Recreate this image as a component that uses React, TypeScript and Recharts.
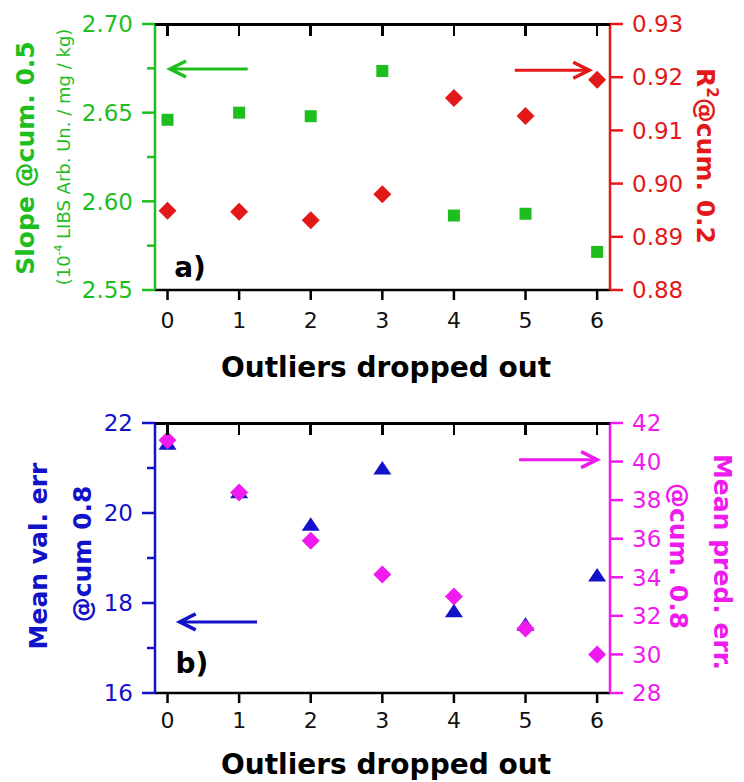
import { ComposedChart, Scatter, XAxis, YAxis, ReferenceLine } from "recharts"

// Outliers dropped out (x)
const OUTLIERS = [0, 1, 2, 3, 4, 5, 6]

// panel a
const SLOPE = [2.646, 2.65, 2.648, 2.6735, 2.592, 2.593, 2.5715]
const R2 = [0.8949, 0.8947, 0.8931, 0.898, 0.9161, 0.9127, 0.9195]

// panel b
const VAL_ERR = [21.55, 20.47, 19.75, 21.0, 17.83, 17.53, 18.62]
const PRED_ERR = [41.1, 38.4, 35.9, 34.15, 33.0, 31.35, 30.0]

// ticks
const X_TICKS = [0, 1, 2, 3, 4, 5, 6]
const SLOPE_TICKS = [2.55, 2.6, 2.65, 2.7]
const SLOPE_MINOR = [2.575, 2.625, 2.675]
const R2_TICKS = [0.88, 0.89, 0.9, 0.91, 0.92, 0.93]
const VAL_TICKS = [16, 18, 20, 22]
const VAL_MINOR = [17, 19, 21]
const PRED_TICKS = [28, 30, 32, 34, 36, 38, 40, 42]

// arrow annotations (tail -> head, in data units)
const ARROW_SLOPE = [{ x: 1.12, y: 2.6746 }, { x: 0.035, y: 2.6746 }]
const ARROW_R2 = [{ x: 4.85, y: 0.9213 }, { x: 5.89, y: 0.9213 }]
const ARROW_VAL = [{ x: 1.25, y: 17.58 }, { x: 0.17, y: 17.58 }]
const ARROW_PRED = [{ x: 4.91, y: 40.1 }, { x: 6.0, y: 40.1 }]

const GREEN = "#1fbe1f"
const RED = "#e31818"
const BLUE = "#1212c8"
const MAGENTA = "#ee1aee"
const BLACK = "#000"

const X_DOMAIN = [-0.175, 6.18]
const TICK_FONT = "DejaVu Sans, sans-serif"

// layout
const W = 744
const LEFT_W = 155
const RIGHT_W = 134
const PLOT_W = W - LEFT_W - RIGHT_W
const A = { y0: 0, h: 400, top: 24, xh: 110 }
const B = { y0: 400, h: 382, top: 23, xh: 89 }

const dataA = OUTLIERS.map((x, i) => ({ x, slope: SLOPE[i], r2: R2[i] }))
const dataB = OUTLIERS.map((x, i) => ({ x, val: VAL_ERR[i], pred: PRED_ERR[i] }))

function YTick(props: any) {
  const { x, y, payload, side, color, labels, digits } = props
  const v = payload.value
  const isMajor = labels.some((t: number) => Math.abs(t - v) < 1e-9)
  const len = isMajor ? 13 : 8
  const dir = side === "left" ? -1 : 1
  return (
    <g>
      <line x1={x} x2={x + dir * len} y1={y} y2={y} stroke={color} strokeWidth={2.5} />
      {isMajor && (
        <text
          x={x + dir * 22}
          y={y}
          dy="0.36em"
          textAnchor={side === "left" ? "end" : "start"}
          fill={color}
          fontSize={23}
          fontFamily={TICK_FONT}
        >
          {v.toFixed(digits)}
        </text>
      )}
    </g>
  )
}

function XTick(props: any) {
  const { x, y, payload, gap } = props
  return (
    <g>
      <line x1={x} x2={x} y1={y} y2={y + 10} stroke={BLACK} strokeWidth={2.5} />
      <text x={x} y={y + gap} dy="0.36em" textAnchor="middle" fill="#111" fontSize={22} fontFamily={TICK_FONT}>
        {payload.value}
      </text>
    </g>
  )
}

function Arrow(props: any) {
  const { x1, y1, x2, y2, color } = props
  const dx = x2 - x1
  const dy = y2 - y1
  const L = Math.hypot(dx, dy) || 1
  const ux = dx / L
  const uy = dy / L
  const hl = 16
  const hw = 8
  const bx = x2 - ux * hl
  const by = y2 - uy * hl
  return (
    <g>
      <line x1={x1} y1={y1} x2={x2 - ux * 2} y2={y2 - uy * 2} stroke={color} strokeWidth={3} />
      <polyline
        points={`${bx - uy * hw},${by + ux * hw} ${x2},${y2} ${bx + uy * hw},${by - ux * hw}`}
        fill="none"
        stroke={color}
        strokeWidth={3.5}
      />
    </g>
  )
}

const Square = (p: any) => <rect x={p.cx - 6} y={p.cy - 6} width={12} height={12} fill={GREEN} />

const Diamond = (color: string) => (p: any) => (
  <polygon
    points={`${p.cx},${p.cy - 9} ${p.cx + 9},${p.cy} ${p.cx},${p.cy + 9} ${p.cx - 9},${p.cy}`}
    fill={color}
  />
)

const Triangle = (p: any) => (
  <polygon points={`${p.cx},${p.cy - 7} ${p.cx + 9},${p.cy + 6.5} ${p.cx - 9},${p.cy + 6.5}`} fill={BLUE} />
)

function Title({ children, cx, cy, color = BLACK, size = 25, weight = 700, rotate = 0 }: any) {
  return (
    <div
      style={{
        position: "absolute",
        left: cx,
        top: cy,
        transform: `translate(-50%, -50%) rotate(${rotate}deg)`,
        whiteSpace: "nowrap",
        color,
        fontSize: size,
        fontWeight: weight,
        fontFamily: "DejaVu Sans, sans-serif",
        lineHeight: 1,
      }}
    >
      {children}
    </div>
  )
}

const sup = { fontSize: "0.6em", verticalAlign: "0.7em", lineHeight: 0 }

// top frame of each panel with inward ticks (same linear x mapping as the chart's x axis)
const xPx = (t: number) => LEFT_W + ((t - X_DOMAIN[0]) / (X_DOMAIN[1] - X_DOMAIN[0])) * PLOT_W

function TopFrame({ fy }: { fy: number }) {
  return (
    <>
      <div
        style={{
          position: "absolute",
          left: LEFT_W,
          top: fy - 1.5,
          width: PLOT_W,
          height: 3,
          background: BLACK,
          zIndex: 5,
        }}
      />
      {X_TICKS.map((t) => (
        <div
          key={t}
          style={{
            position: "absolute",
            left: xPx(t) - 1.25,
            top: fy,
            width: 2.5,
            height: 12,
            background: BLACK,
            zIndex: 5,
          }}
        />
      ))}
    </>
  )
}

export default function App() {
  return (
    <div
      style={{
        position: "absolute",
        left: 0,
        top: 0,
        width: W,
        height: 782,
        background: "#fff",
        overflow: "hidden",
      }}
    >
      {/* Panel a */}
      <div style={{ position: "absolute", left: 0, top: A.y0 }}>
        <ComposedChart width={W} height={A.h} data={dataA} margin={{ top: A.top, right: 0, bottom: 0, left: 0 }}>
          <XAxis
            xAxisId="bottom"
            dataKey="x"
            type="number"
            domain={X_DOMAIN}
            ticks={X_TICKS}
            interval={0}
            height={A.xh}
            tickSize={0}
            tickMargin={0}
            tickLine={false}
            axisLine={{ stroke: BLACK, strokeWidth: 2.5 }}
            tick={(p: any) => <XTick {...p} gap={30} />}
            allowDataOverflow
          />
          <YAxis
            yAxisId="slope"
            orientation="left"
            type="number"
            domain={[2.55, 2.7]}
            ticks={[...SLOPE_TICKS, ...SLOPE_MINOR].sort((a, b) => a - b)}
            interval={0}
            width={LEFT_W}
            tickSize={0}
            tickMargin={0}
            tickLine={false}
            axisLine={{ stroke: GREEN, strokeWidth: 2.5 }}
            tick={(p: any) => <YTick {...p} side="left" color={GREEN} labels={SLOPE_TICKS} digits={2} />}
            allowDataOverflow
          />
          <YAxis
            yAxisId="r2"
            orientation="right"
            type="number"
            domain={[0.88, 0.93]}
            ticks={R2_TICKS}
            interval={0}
            width={RIGHT_W}
            tickSize={0}
            tickMargin={0}
            tickLine={false}
            axisLine={{ stroke: RED, strokeWidth: 2.5 }}
            tick={(p: any) => <YTick {...p} side="right" color={RED} labels={R2_TICKS} digits={2} />}
            allowDataOverflow
          />
          <Scatter xAxisId="bottom" yAxisId="slope" dataKey="slope" shape={Square} isAnimationActive={false} />
          <Scatter xAxisId="bottom" yAxisId="r2" dataKey="r2" shape={Diamond(RED)} isAnimationActive={false} />
          <ReferenceLine
            xAxisId="bottom"
            yAxisId="slope"
            segment={ARROW_SLOPE}
            shape={(p: any) => <Arrow {...p} color={GREEN} />}
          />
          <ReferenceLine
            xAxisId="bottom"
            yAxisId="r2"
            segment={ARROW_R2}
            shape={(p: any) => <Arrow {...p} color={RED} />}
          />
        </ComposedChart>
      </div>

      {/* Panel b */}
      <div style={{ position: "absolute", left: 0, top: B.y0 }}>
        <ComposedChart width={W} height={B.h} data={dataB} margin={{ top: B.top, right: 0, bottom: 0, left: 0 }}>
          <XAxis
            xAxisId="bottom"
            dataKey="x"
            type="number"
            domain={X_DOMAIN}
            ticks={X_TICKS}
            interval={0}
            height={B.xh}
            tickSize={0}
            tickMargin={0}
            tickLine={false}
            axisLine={{ stroke: BLACK, strokeWidth: 2.5 }}
            tick={(p: any) => <XTick {...p} gap={27} />}
            allowDataOverflow
          />
          <YAxis
            yAxisId="val"
            orientation="left"
            type="number"
            domain={[16, 22]}
            ticks={[...VAL_TICKS, ...VAL_MINOR].sort((a, b) => a - b)}
            interval={0}
            width={LEFT_W}
            tickSize={0}
            tickMargin={0}
            tickLine={false}
            axisLine={{ stroke: BLUE, strokeWidth: 2.5 }}
            tick={(p: any) => <YTick {...p} side="left" color={BLUE} labels={VAL_TICKS} digits={0} />}
            allowDataOverflow
          />
          <YAxis
            yAxisId="pred"
            orientation="right"
            type="number"
            domain={[28, 42]}
            ticks={PRED_TICKS}
            interval={0}
            width={RIGHT_W}
            tickSize={0}
            tickMargin={0}
            tickLine={false}
            axisLine={{ stroke: MAGENTA, strokeWidth: 2.5 }}
            tick={(p: any) => <YTick {...p} side="right" color={MAGENTA} labels={PRED_TICKS} digits={0} />}
            allowDataOverflow
          />
          <Scatter xAxisId="bottom" yAxisId="val" dataKey="val" shape={Triangle} isAnimationActive={false} />
          <Scatter xAxisId="bottom" yAxisId="pred" dataKey="pred" shape={Diamond(MAGENTA)} isAnimationActive={false} />
          <ReferenceLine
            xAxisId="bottom"
            yAxisId="val"
            segment={ARROW_VAL}
            shape={(p: any) => <Arrow {...p} color={BLUE} />}
          />
          <ReferenceLine
            xAxisId="bottom"
            yAxisId="pred"
            segment={ARROW_PRED}
            shape={(p: any) => <Arrow {...p} color={MAGENTA} />}
          />
        </ComposedChart>
      </div>

      <TopFrame fy={A.y0 + A.top} />
      <TopFrame fy={B.y0 + B.top} />

      {/* axis titles */}
      <Title cx={25} cy={158} color={GREEN} rotate={-90}>
        Slope @cum. 0.5
      </Title>
      <Title cx={64} cy={157} color={GREEN} size={18} weight={400} rotate={-90}>
        (10<span style={sup}>-4</span> LIBS Arb. Un. / mg / kg)
      </Title>
      <Title cx={705} cy={156} color={RED} rotate={90}>
        R<span style={sup}>2</span>@cum. 0.2
      </Title>
      <Title cx={386} cy={368} size={28}>
        Outliers dropped out
      </Title>
      <Title cx={190} cy={268} size={28}>
        a)
      </Title>

      <Title cx={38} cy={556} color={BLUE} rotate={-90}>
        Mean val. err
      </Title>
      <Title cx={82} cy={554} color={BLUE} rotate={-90}>
        @cum 0.8
      </Title>
      <Title cx={722} cy={562} color={MAGENTA} rotate={90}>
        Mean pred. err.
      </Title>
      <Title cx={678} cy={556} color={MAGENTA} rotate={90}>
        @cum. 0.8
      </Title>
      <Title cx={386} cy={765} size={28}>
        Outliers dropped out
      </Title>
      <Title cx={192} cy={664} size={28}>
        b)
      </Title>
    </div>
  )
}
